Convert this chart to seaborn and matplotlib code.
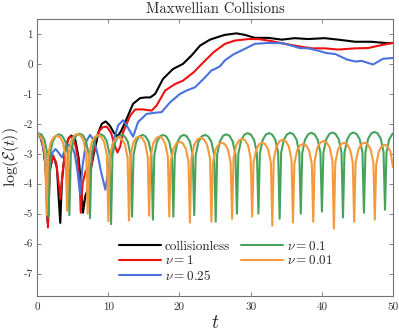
import matplotlib
matplotlib.use('Agg')
import matplotlib.pyplot as plt
import seaborn as sns

# ---- data ----
black_t = [0, 0.5, 0.9, 1.2, 1.5, 1.8, 2.2, 2.5, 2.8, 3.05, 3.27, 3.5, 3.98, 4.45, 4.82,
           5.38, 5.85, 6.23, 6.46, 6.8, 7.0, 7.5, 7.96, 8.66, 9.1, 9.65, 10.2, 10.8, 11.3,
           11.8, 12.6, 13.5, 14.5, 15.2, 15.9, 16.6, 17.7, 19.1, 20.5, 21.7, 22.9, 24.3,
           25.7, 26.4, 28.0, 29.2, 30.6, 32.5, 34.4, 36.2, 38.1, 40.4, 42.3, 44.7, 47.0,
           49.3, 50.0]
black_y = [-2.30, -2.45, -2.8, -3.4, -5.3, -3.5, -3.13, -3.2, -3.47, -4.47, -5.31, -3.92,
           -2.81, -2.48, -2.39, -2.53, -3.14, -4.14, -4.97, -4.4, -4.28, -3.6, -3.03, -2.26,
           -2.0, -1.92, -2.05, -2.3, -2.42, -2.25, -1.83, -1.33, -1.14, -1.12, -1.12, -1.0,
           -0.5, -0.17, 0.0, 0.28, 0.61, 0.81, 0.92, 0.97, 1.02, 0.97, 0.87, 0.87, 0.81,
           0.86, 0.83, 0.86, 0.81, 0.74, 0.74, 0.69, 0.70]

red_t = [0, 0.5, 0.9, 1.2, 1.54, 1.8, 2.25, 2.7, 3.0, 3.3, 3.6, 4.0, 4.45, 4.75, 5.3, 5.7,
         6.0, 6.15, 6.4, 6.8, 7.4, 7.7, 8.2, 8.7, 9.2, 9.8, 10.4, 10.9, 11.3, 11.7, 12.1,
         13.1, 13.8, 14.9, 16.1, 16.8, 18.0, 19.4, 20.5, 22.0, 23.4, 24.8, 26.4, 27.8,
         29.7, 31.1, 33.0, 34.8, 36.7, 38.6, 40.4, 42.3, 44.7, 46.5, 48.4, 50.0]
red_y = [-2.30, -2.45, -2.8, -3.4, -5.46, -3.6, -3.05, -3.3, -3.9, -4.5, -3.6, -2.85,
         -2.48, -2.42, -2.6, -3.1, -4.0, -4.97, -4.0, -3.6, -3.4, -3.3, -2.53, -2.25,
         -2.12, -2.09, -2.3, -2.7, -2.96, -2.75, -2.28, -1.72, -1.52, -1.52, -1.56, -1.39,
         -0.89, -0.67, -0.56, -0.28, 0.06, 0.39, 0.67, 0.78, 0.83, 0.83, 0.76, 0.67, 0.59,
         0.52, 0.52, 0.48, 0.52, 0.53, 0.63, 0.70]

blue_t = [0, 0.5, 0.9, 1.2, 1.5, 1.8, 2.1, 2.6, 3.0, 3.5, 4.0, 4.5, 4.9, 5.3, 5.7, 6.05,
          6.4, 6.9, 7.45, 8.0, 8.5, 9.0, 9.6, 10.1, 10.8, 11.4, 12.1, 12.7, 13.5, 13.8,
          14.2, 15.4, 16.6, 17.5, 18.7, 20.1, 21.0, 22.2, 23.4, 24.5, 25.0, 25.7, 26.4,
          27.6, 29.0, 30.6, 32.5, 34.6, 36.9, 38.1, 39.5, 40.7, 41.9, 43.5, 44.7, 45.6,
          47.2, 48.6, 50.0]
blue_y = [-2.30, -2.45, -2.8, -3.4, -4.6, -3.4, -2.98, -2.84, -2.95, -3.12, -2.85, -2.7,
          -2.75, -3.0, -3.6, -4.35, -3.4, -2.6, -2.37, -2.55, -3.0, -3.6, -4.2, -3.4,
          -2.53, -2.05, -1.88, -2.1, -2.43, -2.22, -1.94, -1.67, -1.63, -1.61, -1.28, -1.0,
          -0.89, -0.78, -0.5, -0.22, -0.17, -0.08, 0.12, 0.32, 0.48, 0.67, 0.70, 0.69,
          0.53, 0.52, 0.44, 0.36, 0.33, 0.15, 0.08, 0.10, -0.02, 0.17, 0.20]

green_t = [0, 0.61, 1.05, 1.43, 1.64,
           1.84, 2.22, 2.66, 3.10, 3.53, 3.97, 4.35, 4.55,
           4.75, 5.13, 5.57, 6.00, 6.44, 6.87, 7.25, 7.45,
           7.66, 8.04, 8.48, 8.93, 9.37, 9.81, 10.19, 10.40,
           10.61, 10.99, 11.43, 11.88, 12.32, 12.76, 13.14, 13.35,
           13.56, 13.94, 14.38, 14.82, 15.25, 15.69, 16.07, 16.28,
           16.48, 16.85, 17.28, 17.72, 18.15, 18.58, 18.95, 19.15,
           19.36, 19.74, 20.18, 20.62, 21.05, 21.49, 21.87, 22.08,
           22.29, 22.68, 23.14, 23.59, 24.04, 24.50, 24.89, 25.10,
           25.31, 25.70, 26.14, 26.59, 27.04, 27.48, 27.87, 28.08,
           28.29, 28.68, 29.14, 29.59, 30.04, 30.50, 30.89, 31.10,
           31.31, 31.70, 32.14, 32.59, 33.04, 33.48, 33.87, 34.08,
           34.29, 34.67, 35.12, 35.57, 36.01, 36.46, 36.84, 37.05,
           37.26, 37.64, 38.09, 38.54, 38.98, 39.43, 39.81, 40.02,
           40.23, 40.61, 41.06, 41.50, 41.94, 42.39, 42.77, 42.98,
           43.19, 43.57, 44.01, 44.45, 44.89, 45.33, 45.71, 45.92,
           46.13, 46.51, 46.96, 47.40, 47.84, 48.29, 48.67, 48.88,
           49.09, 49.47, 49.91, 50.0]
green_y = [-2.31, -2.35, -2.53, -2.97, -5.10,
           -3.02, -2.58, -2.40, -2.35, -2.40, -2.58, -3.02, -5.05,
           -3.00, -2.56, -2.38, -2.33, -2.38, -2.56, -3.00, -5.15,
           -3.02, -2.58, -2.40, -2.35, -2.40, -2.58, -3.02, -5.35,
           -3.04, -2.60, -2.42, -2.37, -2.42, -2.60, -3.04, -5.10,
           -3.04, -2.60, -2.42, -2.37, -2.42, -2.60, -3.04, -5.20,
           -3.04, -2.60, -2.42, -2.37, -2.42, -2.60, -3.04, -5.10,
           -3.04, -2.60, -2.42, -2.37, -2.42, -2.60, -3.04, -5.05,
           -3.04, -2.60, -2.42, -2.37, -2.42, -2.60, -3.04, -5.27,
           -3.02, -2.58, -2.40, -2.35, -2.40, -2.58, -3.02, -5.00,
           -2.98, -2.54, -2.36, -2.31, -2.36, -2.54, -2.98, -5.00,
           -2.98, -2.54, -2.36, -2.31, -2.36, -2.54, -2.98, -5.17,
           -2.97, -2.53, -2.35, -2.30, -2.35, -2.53, -2.97, -5.00,
           -2.97, -2.53, -2.35, -2.30, -2.35, -2.53, -2.97, -4.93,
           -2.96, -2.52, -2.34, -2.29, -2.34, -2.52, -2.96, -5.13,
           -2.96, -2.52, -2.34, -2.29, -2.34, -2.52, -2.96, -4.97,
           -2.94, -2.50, -2.32, -2.27, -2.32, -2.50, -2.94, -4.87,
           -2.96, -2.52, -2.34, -2.32]

orange_t = [0, 0.33, 0.77, 1.15, 1.35,
            1.55, 1.92, 2.35, 2.79, 3.22, 3.65, 4.02, 4.22,
            4.42, 4.80, 5.24, 5.67, 6.11, 6.54, 6.92, 7.12,
            7.32, 7.70, 8.14, 8.57, 9.01, 9.44, 9.82, 10.02,
            10.22, 10.60, 11.04, 11.47, 11.91, 12.34, 12.72, 12.92,
            13.12, 13.49, 13.91, 14.34, 14.76, 15.18, 15.55, 15.75,
            15.95, 16.32, 16.74, 17.17, 17.59, 18.01, 18.38, 18.58,
            18.78, 19.16, 19.60, 20.03, 20.47, 20.90, 21.28, 21.48,
            21.69, 22.08, 22.54, 22.99, 23.44, 23.90, 24.29, 24.50,
            24.70, 25.08, 25.52, 25.95, 26.39, 26.82, 27.20, 27.40,
            27.60, 27.96, 28.39, 28.81, 29.23, 29.66, 30.02, 30.22,
            30.42, 30.79, 31.21, 31.64, 32.06, 32.48, 32.85, 33.05,
            33.25, 33.63, 34.07, 34.50, 34.94, 35.37, 35.75, 35.95,
            36.15, 36.52, 36.95, 37.38, 37.80, 38.23, 38.60, 38.80,
            39.00, 39.38, 39.82, 40.25, 40.69, 41.12, 41.50, 41.70,
            41.90, 42.27, 42.70, 43.13, 43.55, 43.98, 44.35, 44.55,
            44.75, 45.13, 45.57, 46.00, 46.44, 46.87, 47.25, 47.45,
            47.64, 48.00, 48.41, 48.83, 49.25, 49.65, 50.0]
orange_y = [-2.33, -2.38, -2.56, -3.00, -5.05,
            -3.07, -2.63, -2.45, -2.40, -2.45, -2.63, -3.07, -4.90,
            -3.01, -2.57, -2.39, -2.34, -2.39, -2.57, -3.01, -5.00,
            -3.05, -2.61, -2.43, -2.38, -2.43, -2.61, -3.05, -5.25,
            -3.12, -2.68, -2.50, -2.45, -2.50, -2.68, -3.12, -5.23,
            -3.09, -2.65, -2.47, -2.42, -2.47, -2.65, -3.09, -5.07,
            -3.10, -2.66, -2.48, -2.43, -2.48, -2.66, -3.10, -5.10,
            -3.27, -2.83, -2.65, -2.60, -2.65, -2.83, -3.27, -5.30,
            -3.14, -2.70, -2.52, -2.47, -2.52, -2.70, -3.14, -5.27,
            -3.30, -2.86, -2.68, -2.63, -2.68, -2.86, -3.30, -5.17,
            -3.17, -2.73, -2.55, -2.50, -2.55, -2.73, -3.17, -5.10,
            -3.30, -2.86, -2.68, -2.63, -2.68, -2.86, -3.30, -5.40,
            -3.20, -2.76, -2.58, -2.53, -2.58, -2.76, -3.20, -5.30,
            -3.34, -2.90, -2.72, -2.67, -2.72, -2.90, -3.34, -5.27,
            -3.24, -2.80, -2.62, -2.57, -2.62, -2.80, -3.24, -5.50,
            -3.30, -2.86, -2.68, -2.63, -2.68, -2.86, -3.30, -5.27,
            -3.30, -2.86, -2.68, -2.63, -2.68, -2.86, -3.30, -5.20,
            -3.37, -2.93, -2.75, -2.70, -2.75, -2.93, -3.45]

labels = ['collisionless', r'$\nu = 1$', r'$\nu = 0.25$', r'$\nu = 0.1$', r'$\nu = 0.01$']
colors = ['black', '#ee1111', '#4a72dc', '#47a35c', '#f59a3c']

sns.set_style('ticks')
plt.rcParams['font.family'] = 'serif'
plt.rcParams['font.serif'] = ['cmr10']
plt.rcParams['mathtext.fontset'] = 'cm'
plt.rcParams['axes.unicode_minus'] = False

fig = plt.figure(figsize=(3.99, 3.32), dpi=100)
ax = fig.add_axes([0.0927, 0.1084, 0.8922, 0.8344])

series = [(black_t, black_y), (red_t, red_y), (blue_t, blue_y),
          (green_t, green_y), (orange_t, orange_y)]
for (t, y), c, lab in zip(series, colors, labels):
    sns.lineplot(x=t, y=y, color=c, lw=1.5, label=lab, ax=ax,
                 estimator=None, sort=False)

ax.set_xlim(0, 50)
ax.set_ylim(-7.75, 1.5)
ax.set_xticks(range(0, 51, 10))
ax.set_yticks(range(-7, 2))
ax.tick_params(direction='in', top=True, right=True, labelsize=8,
               length=3, width=0.6, color='0.45', labelcolor='0.2', pad=5)
ax.tick_params(axis='y', pad=3)
for s in ax.spines.values():
    s.set_color('0.45')
    s.set_linewidth(0.8)

ax.set_title('Maxwellian Collisions', fontsize=10.5, pad=4)
ax.set_xlabel(r'$t$', fontsize=14, labelpad=1)
ax.set_ylabel(r'$\log(\mathcal{E}(t))$', fontsize=11.5)
ax.yaxis.set_label_coords(-0.045, 0.5)

ax.legend(loc='lower center', bbox_to_anchor=(0.53, 0.005), ncol=2, frameon=False,
          fontsize=9.5, handlelength=3.2, columnspacing=0.8, handletextpad=0.3,
          labelspacing=0.1)

fig.savefig('out.png', dpi=100)
